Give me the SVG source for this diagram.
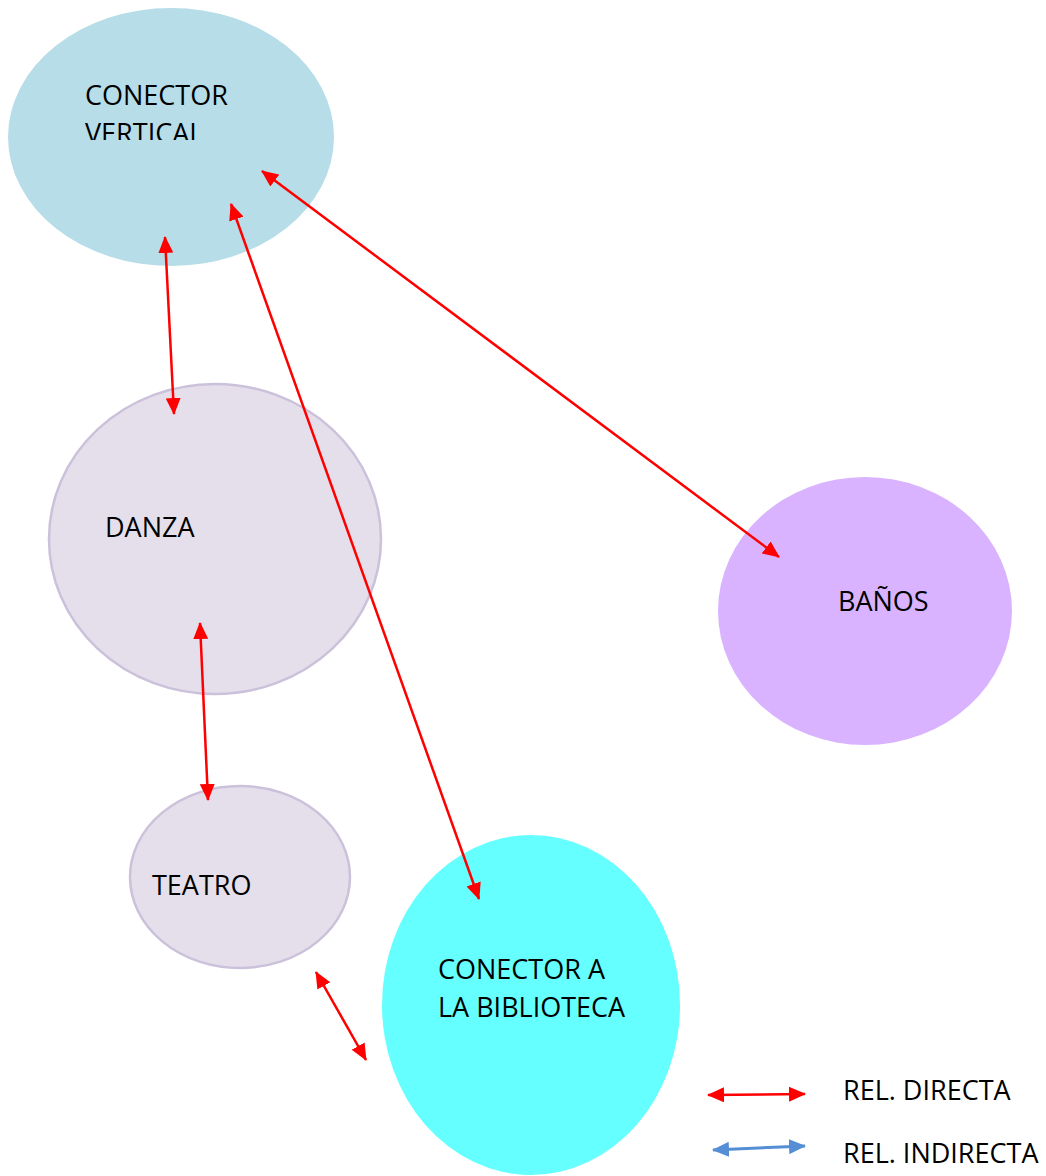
<svg xmlns="http://www.w3.org/2000/svg" width="1046" height="1176" viewBox="0 0 1046 1176">
<style>
text{font-family:"Open Sans","Noto Sans","Liberation Sans",sans-serif;font-size:27px;fill:#000}
.lav{fill:#e5dfec;stroke:#cbc1da;stroke-width:2.5}
.red{stroke:#ff0000;stroke-width:2.5;fill:none;marker-start:url(#ar);marker-end:url(#ar)}
.blue{stroke:#558ed5;stroke-width:3;fill:none;marker-start:url(#ab);marker-end:url(#ab)}
</style>
<defs>
<marker id="ar" markerUnits="userSpaceOnUse" markerWidth="17" markerHeight="15" refX="16" refY="7.5" orient="auto-start-reverse" viewBox="0 0 17 15"><path d="M0,0L17,7.5L0,15Z" fill="#ff0000"/></marker>
<marker id="ab" markerUnits="userSpaceOnUse" markerWidth="17" markerHeight="15" refX="16" refY="7.5" orient="auto-start-reverse" viewBox="0 0 17 15"><path d="M0,0L17,7.5L0,15Z" fill="#558ed5"/></marker>
<clipPath id="cv"><rect x="0" y="0" width="400" height="140"/></clipPath>
</defs>
<rect width="1046" height="1176" fill="#fff"/>
<g id="conector-vertical">
<ellipse cx="171" cy="137" rx="163" ry="129" fill="#b7dde8"/>
<g clip-path="url(#cv)"><text x="85" y="105">CONECTOR</text><text x="85" y="143">VERTICAL</text></g>
</g>
<g id="danza">
<ellipse class="lav" cx="215" cy="539" rx="166" ry="155"/>
<text x="105" y="537">DANZA</text>
</g>
<g id="banos">
<ellipse cx="865" cy="611" rx="147" ry="134" fill="#d9b3ff"/>
<text x="838" y="611">BAÑOS</text>
</g>
<g id="teatro">
<ellipse class="lav" cx="240" cy="877" rx="110" ry="91"/>
<text x="152" y="895">TEATRO</text>
</g>
<g id="conector-biblioteca">
<ellipse cx="531" cy="1005" rx="149" ry="170" fill="#66ffff"/>
<text x="438" y="979">CONECTOR A</text>
<text x="438" y="1017">LA BIBLIOTECA</text>
</g>
<g id="connectors">
<line class="red" x1="262" y1="171" x2="779" y2="557"/>
<line class="red" x1="231" y1="204" x2="479" y2="899"/>
<line class="red" x1="165" y1="237" x2="174" y2="414"/>
<line class="red" x1="200" y1="623" x2="208" y2="800"/>
<line class="red" x1="316" y1="972" x2="366" y2="1060"/>
</g>
<g id="legend">
<line class="red" x1="708" y1="1095" x2="805" y2="1094"/>
<line class="blue" x1="713" y1="1150" x2="805" y2="1146"/>
<text x="843" y="1100">REL. DIRECTA</text>
<text x="843" y="1163">REL. INDIRECTA</text>
</g>
</svg>
